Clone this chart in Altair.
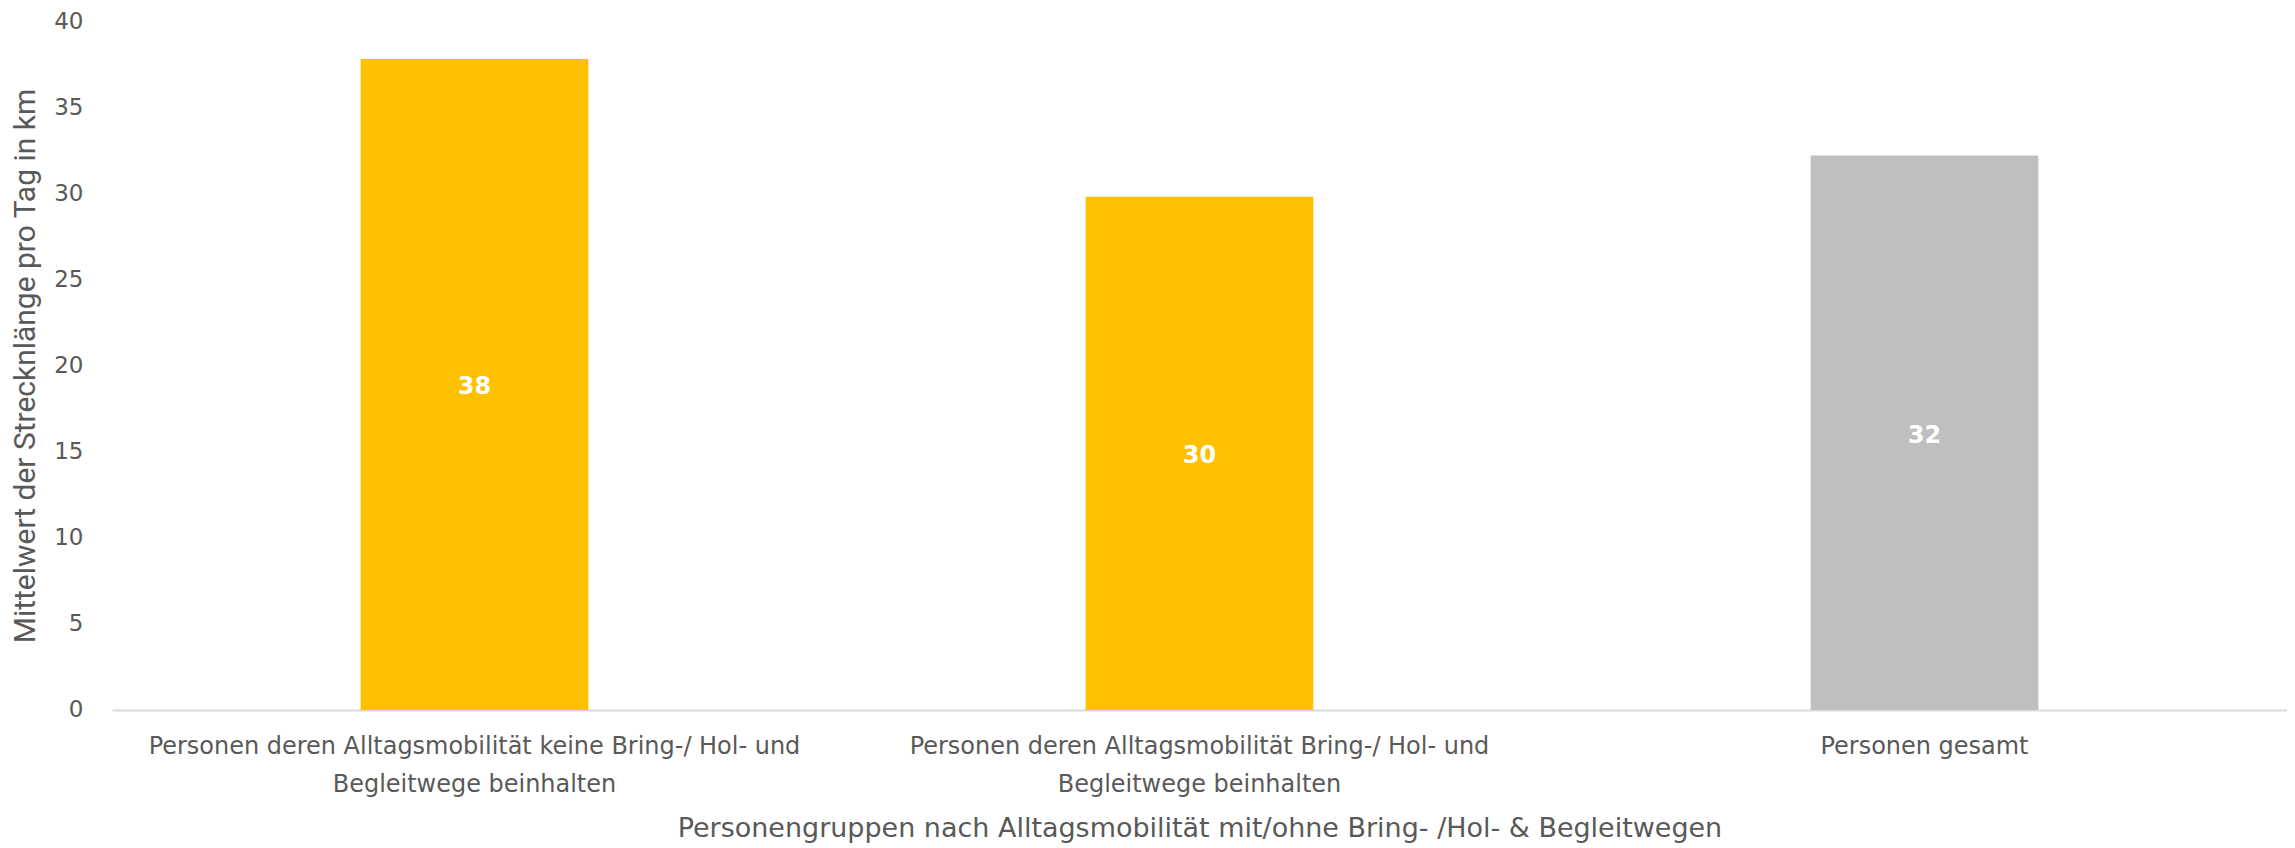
import altair as alt
import pandas as pd

categories = [
    "Personen deren Alltagsmobilität keine Bring-/ Hol- und\nBegleitwege beinhalten",
    "Personen deren Alltagsmobilität Bring-/ Hol- und\nBegleitwege beinhalten",
    "Personen gesamt",
]
values = [37.8, 29.8, 32.2]
colors = ["#FFC000", "#FFC000", "#BFBFBF"]

df = pd.DataFrame({"cat": categories, "val": values, "col": colors})

FONT = "DejaVu Sans"
TXT = "#595959"

x = alt.X(
    "cat:N",
    sort=categories,
    scale=alt.Scale(paddingInner=0.686, paddingOuter=0.343),
    axis=alt.Axis(
        title="Personengruppen nach Alltagsmobilität mit/ohne Bring- /Hol- & Begleitwegen",
        labelExpr="split(datum.label, '\\n')",
        labelAngle=0,
        labelFont=FONT,
        labelFontSize=24,
        labelColor=TXT,
        labelLineHeight=38,
        labelPadding=37,
        labelBaseline="middle",
        labelLimit=1000,
        ticks=False,
        domainColor="#D9D9D9",
        domainWidth=2,
        titleFont=FONT,
        titleFontSize=27,
        titleFontWeight="normal",
        titleColor=TXT,
        titlePadding=19,
    ),
)

y = alt.Y(
    "val:Q",
    scale=alt.Scale(domain=[0, 40]),
    axis=alt.Axis(
        title="Mittelwert der Strecknlänge pro Tag in km",
        values=[0, 5, 10, 15, 20, 25, 30, 35, 40],
        labelFont=FONT,
        labelFontSize=23,
        labelColor=TXT,
        labelPadding=29,
        ticks=False,
        domain=False,
        grid=False,
        titleFont="Roboto",
        titleFontSize=30,
        titleFontWeight="normal",
        titleColor=TXT,
        titlePadding=13,
    ),
)

bars = alt.Chart(df).mark_bar().encode(
    x=x,
    y=y,
    color=alt.Color("col:N", scale=None),
)

labels = alt.Chart(df).transform_calculate(mid="datum.val / 2").mark_text(
    font=FONT, fontSize=24, fontWeight="bold", color="white", baseline="middle", dy=3
).encode(
    x=alt.X("cat:N", sort=categories),
    y=alt.Y("mid:Q"),
    text=alt.Text("val:Q", format=".0f"),
)

chart = (
    alt.layer(bars, labels)
    .properties(
        width=2176,
        height=689,
        padding={"left": 104, "top": 13, "right": 0, "bottom": 136},
        autosize=alt.AutoSizeParams(type="none"),
    )
    .configure(background="white")
    .configure_view(stroke=None, strokeWidth=0)
)

chart.save("out.html", embed_options={"renderer": "svg", "actions": False})
